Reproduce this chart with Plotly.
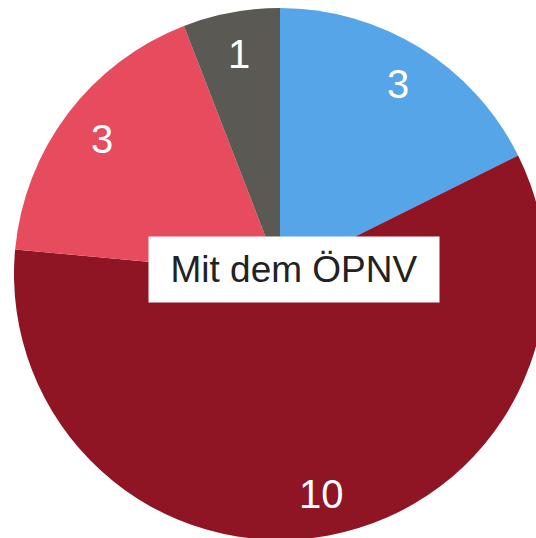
import math
import plotly.graph_objects as go

labels = ["Mit dem Fahrrad", "Mit dem ÖPNV", "Mit dem Auto", "Zu Fuß"]
values = [3, 10, 3, 1]
colors = ["#56a5e9", "#8f1424", "#e74c5e", "#5a5954"]
tooltip_text = "Mit dem ÖPNV"

fig = go.Figure(go.Pie(
    labels=labels,
    values=values,
    sort=False,
    direction="clockwise",
    rotation=0,
    marker=dict(colors=colors, line=dict(width=0)),
    textinfo="none",
    hoverinfo="skip",
    showlegend=False,
    domain=dict(x=[0, 1], y=[0, 1]),
))

# value labels placed along each slice's mid-angle, derived from the data
total = sum(values)
cum = 0
label_r = 0.84
for v in values:
    mid = (cum + v / 2) / total * 2 * math.pi
    cum += v
    fig.add_annotation(
        text=str(v),
        xref="paper", yref="paper",
        x=0.5 + 0.5 * label_r * math.sin(mid),
        y=0.5 + 0.5 * label_r * math.cos(mid),
        xanchor="center", yanchor="middle",
        showarrow=False,
        font=dict(family="Liberation Sans, Arial, sans-serif", size=40, color="white"),
    )

fig.add_annotation(
    text=tooltip_text,
    xref="paper", yref="paper",
    x=0.5263, y=0.5085,
    xanchor="center", yanchor="middle",
    showarrow=False,
    bgcolor="white",
    borderpad=0,
    width=290, height=65,
    font=dict(family="Liberation Sans, Arial, sans-serif", size=37, color="#222222"),
)

fig.update_layout(
    autosize=False,
    width=546, height=540,
    margin=dict(l=14, r=0, t=8, b=0, pad=0),
    paper_bgcolor="white",
    plot_bgcolor="white",
)

fig.write_html(
    "out.html",
    config={"displayModeBar": False},
    post_script="document.body.style.margin='0';document.body.style.overflow='hidden';document.documentElement.style.overflow='hidden';",
)
